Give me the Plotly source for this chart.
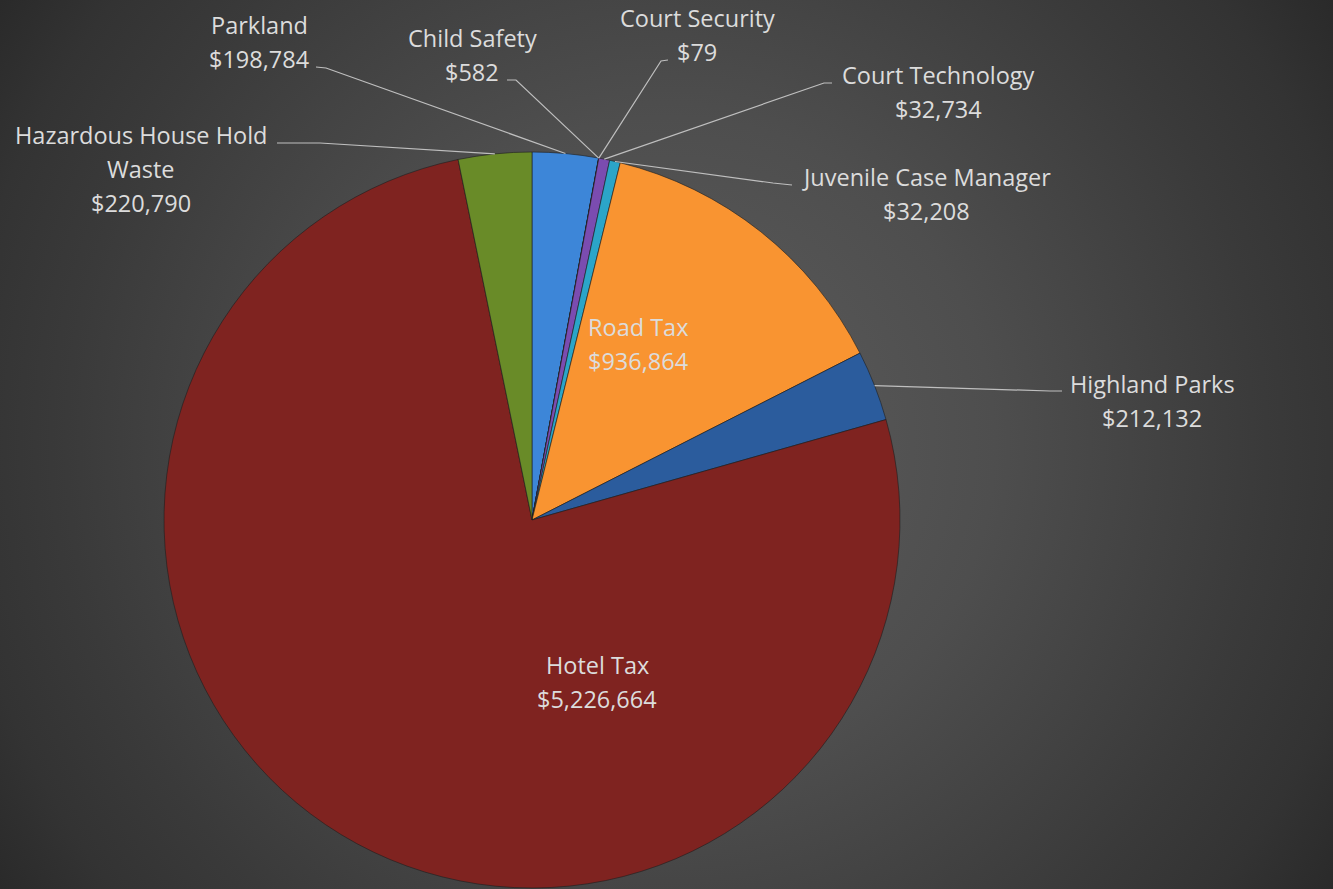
import math, base64
import plotly.graph_objects as go

# ---- data ----
categories = ["Parkland", "Child Safety", "Court Security", "Court Technology",
              "Juvenile Case Manager", "Road Tax", "Highland Parks", "Hotel Tax",
              "Hazardous House Hold Waste"]
values = [198784, 582, 79, 32734, 32208, 936864, 212132, 5226664, 220790]
label_lines = [["Parkland"], ["Child Safety"], ["Court Security"], ["Court Technology"],
               ["Juvenile Case Manager"], ["Road Tax"], ["Highland Parks"], ["Hotel Tax"],
               ["Hazardous House Hold", "Waste"]]

# ---- styling / layout ----
W, H = 1333, 889
colors = ["#3d86d8", "#8a2a26", "#6c8d2b", "#7b4cb0", "#2ba5c8", "#f99431",
          "#2b5c9d", "#7f2320", "#698b28"]
CX, CY, R = 532, 520, 368
# label block: (center x, top line center y) in pixels
label_pos = [(259, 25), (472, 38), (697, 18), (938, 75), (926, 177),
             (638, 327), (1152, 384), (597, 665), (141, 135)]
line_gap = 34
# leader lines: (label-side start, elbow) in pixels; None = no leader
leaders = [((316, 67), (326, 68)), ((507, 80), (516, 80)), ((668, 60), (661, 61)),
           ((832, 83), (824, 83)), ((792, 185), (773, 183)), None,
           ((1062, 391), (1050, 391)), None, ((277, 143), (320, 143))]
text_col = "#dcdcdc"
FONT = "Open Sans"
FS = 23.5

def px(x, y):
    return x / W, 1 - y / H

svg = f'''<svg xmlns="http://www.w3.org/2000/svg" width="{W}" height="{H}">
<defs><radialGradient id="g" gradientUnits="userSpaceOnUse" cx="{W/2}" cy="{H/2}" r="800">
<stop offset="0" stop-color="#5e5e5e"/><stop offset="0.41" stop-color="#4e4e4e"/>
<stop offset="0.75" stop-color="#3a3a3a"/><stop offset="0.885" stop-color="#333333"/>
<stop offset="1" stop-color="#2a2a2a"/></radialGradient></defs>
<rect width="{W}" height="{H}" fill="url(#g)"/></svg>'''
bg_uri = "data:image/svg+xml;base64," + base64.b64encode(svg.encode()).decode()

fig = go.Figure(go.Pie(
    labels=categories, values=values, sort=False, direction="clockwise", rotation=0,
    textinfo="none", hovertemplate="%{label}<br>$%{value:,}<extra></extra>",
    marker=dict(colors=colors, line=dict(color="rgba(30,30,30,0.6)", width=1)),
    domain=dict(x=[(CX - R) / W, (CX + R) / W], y=[1 - (CY + R) / H, 1 - (CY - R) / H]),
    showlegend=False,
))

total = sum(values)
annotations, shapes = [], []
cum = 0
for i, (name_lines, v) in enumerate(zip(label_lines, values)):
    mid = (cum + v / 2) / total * 2 * math.pi
    cum += v
    lines = name_lines + [f"${v:,}"]
    lx, ly = label_pos[i]
    for j, t in enumerate(lines):
        x, y = px(lx, ly + j * line_gap)
        annotations.append(dict(x=x, y=y, xref="paper", yref="paper", text=t,
                                showarrow=False, xanchor="center", yanchor="middle",
                                font=dict(family=FONT, size=FS, color=text_col)))
    if leaders[i] is not None:
        ax, ay = CX + R * math.sin(mid), CY - R * math.cos(mid)
        (sx, sy), (ex, ey) = leaders[i]
        pts = [px(sx, sy), px(ex, ey), px(ax, ay)]
        path = "M {} {} L {} {} L {} {}".format(*[c for p in pts for c in p])
        shapes.append(dict(type="path", path=path, xref="paper", yref="paper",
                           line=dict(color="#bfbfbf", width=1.2), layer="above"))

fig.update_layout(
    width=W, height=H, margin=dict(l=0, r=0, t=0, b=0),
    paper_bgcolor="#3c3c3c", plot_bgcolor="#3c3c3c",
    images=[dict(source=bg_uri, xref="paper", yref="paper", x=0, y=1, sizex=1, sizey=1,
                 xanchor="left", yanchor="top", sizing="stretch", layer="below")],
    annotations=annotations, shapes=shapes,
)
fig.write_html("out.html")
